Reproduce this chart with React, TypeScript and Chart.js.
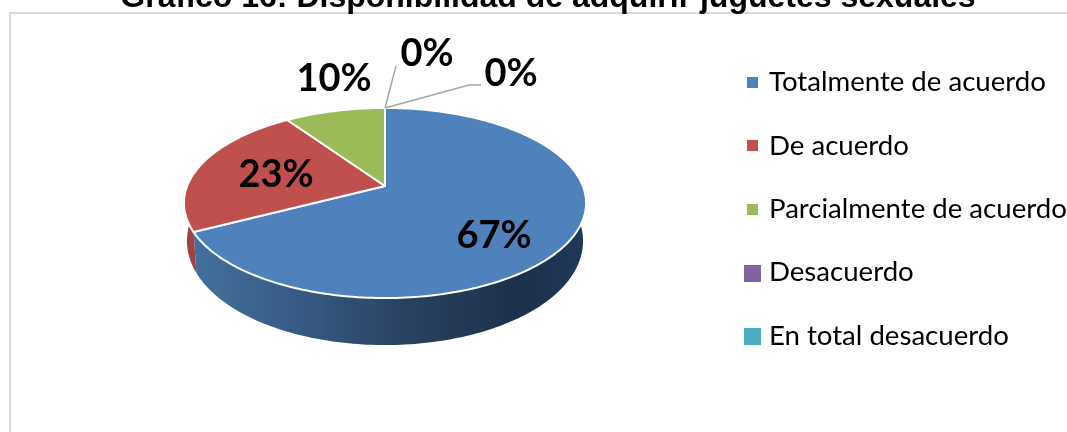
import React, { useEffect, useRef } from "react";
import { Chart, registerables } from "chart.js";

Chart.register(...registerables);

const titleText = "Gráfico 16: Disponibilidad de adquirir juguetes sexuales";
const categories = ["Totalmente de acuerdo", "De acuerdo", "Parcialmente de acuerdo", "Desacuerdo", "En total desacuerdo"];
const values = [67.4, 23, 9.6, 0, 0];
const colors = ["#4f81bd", "#c0504d", "#9bbb59", "#8064a2", "#4bacc6"];

const CX = 385, CY = 186, A = 197.8, B = 92, K = 0.179;

function project(theta: number, r: number, bottom = false) {
  const x = Math.sin(theta) * r;
  const z = -Math.cos(theta) * r;
  const d = 1 - K * z;
  let X = CX + (A * x) / d;
  let Y = CY + (B * z) / d;
  if (bottom) {
    X = CX + (X - CX) * 0.985;
    Y = Y + 36 + 11 * z;
  }
  return [X, Y];
}

function rimPoints(start: number, end: number, bottom = false) {
  const n = Math.max(1, Math.ceil(Math.abs(end - start) / 0.02));
  const pts: number[][] = [];
  for (let i = 0; i <= n; i++) pts.push(project(start + ((end - start) * i) / n, 1, bottom));
  return pts;
}

const piePlugin = {
  id: "perspectivePie",
  beforeDatasetsDraw(chart: any) {
    const ctx = chart.ctx as CanvasRenderingContext2D;
    const arcs = chart.getDatasetMeta(0).data;
    const angle = (a: number) => a + Math.PI / 2;

    // frame
    ctx.save();
    ctx.strokeStyle = "#d9d9d9";
    ctx.lineWidth = 2;
    ctx.strokeRect(10, 13, 1200, 600);
    ctx.restore();

    // side walls
    const blueWall = ctx.createLinearGradient(190, 0, 586, 0);
    blueWall.addColorStop(0, "#44719f");
    blueWall.addColorStop(0.28, "#375a83");
    blueWall.addColorStop(0.53, "#2a4363");
    blueWall.addColorStop(0.83, "#1c3049");
    blueWall.addColorStop(1, "#21385a");
    const wallFill = ["", "#a04441", "#7a9148", "#64508a", "#3a8ba0"];
    arcs.forEach((arc: any, i: number) => {
      if (values[i] === 0) return;
      const s = angle(arc.startAngle), e = angle(arc.endAngle);
      const top = rimPoints(s, e);
      const bot = rimPoints(s, e, true).reverse();
      ctx.beginPath();
      [...top, ...bot].forEach((p, j) => (j ? ctx.lineTo(p[0], p[1]) : ctx.moveTo(p[0], p[1])));
      ctx.closePath();
      ctx.fillStyle = i === 0 ? blueWall : wallFill[i];
      ctx.fill();
    });

    // top faces
    arcs.forEach((arc: any, i: number) => {
      if (values[i] === 0) return;
      const pts = rimPoints(angle(arc.startAngle), angle(arc.endAngle));
      ctx.beginPath();
      ctx.moveTo(CX, CY);
      pts.forEach((p) => ctx.lineTo(p[0], p[1]));
      ctx.closePath();
      ctx.fillStyle = colors[i];
      ctx.fill();
      ctx.strokeStyle = "#ffffff";
      ctx.lineWidth = 2;
      ctx.lineJoin = "round";
      ctx.stroke();
    });
    return false;
  },
  afterDraw(chart: any) {
    const ctx = chart.ctx as CanvasRenderingContext2D;
    const total = values.reduce((a, b) => a + b, 0);

    // title
    ctx.save();
    ctx.fillStyle = "#000";
    ctx.font = 'bold 32px "Liberation Sans"';
    ctx.textAlign = "center";
    ctx.textBaseline = "alphabetic";
    ctx.fillText(titleText, 548, 7);

    // leader lines
    ctx.strokeStyle = "#a6a6a6";
    ctx.lineWidth = 1.5;
    ctx.beginPath();
    ctx.moveTo(385, 108);
    ctx.lineTo(396, 66);
    ctx.moveTo(385, 108);
    ctx.lineTo(469, 85);
    ctx.lineTo(481, 85);
    ctx.stroke();

    // data labels
    const labelAt = [[494, 236], [276, 175], [334, 79], [427, 54], [511, 74]];
    ctx.font = 'bold 38px Lato';
    ctx.textBaseline = "middle";
    values.forEach((v, i) => {
      ctx.fillText(`${Math.round((v / total) * 100)}%`, labelAt[i][0], labelAt[i][1]);
    });

    // legend
    const rowY = [82, 146, 209, 272, 336];
    const boxes = [[747, 77, 11], [747, 140, 11], [747, 204, 11], [744, 265, 17], [744, 328, 17]];
    ctx.font = '27.6px Lato';
    ctx.textAlign = "left";
    categories.forEach((c, i) => {
      ctx.fillStyle = colors[i];
      ctx.fillRect(boxes[i][0], boxes[i][1], boxes[i][2], boxes[i][2]);
      ctx.fillStyle = "#000";
      ctx.fillText(c, 769, rowY[i]);
    });
    ctx.restore();
  },
};

export default function App() {
  const ref = useRef<HTMLCanvasElement>(null);
  useEffect(() => {
    const chart = new Chart(ref.current!, {
      type: "pie",
      data: {
        labels: categories,
        datasets: [{ data: values, backgroundColor: colors }],
      },
      options: {
        animation: false,
        responsive: false,
        layout: { padding: { left: 184, right: 481, top: 15, bottom: 15 } },
        plugins: { legend: { display: false }, tooltip: { enabled: false } },
      },
      plugins: [piePlugin],
    } as any);
    return () => chart.destroy();
  }, []);
  return (
    <div style={{ position: "fixed", left: 0, top: 0, width: 1067, height: 432, background: "#fff" }}>
      <canvas ref={ref} width={1067} height={432} style={{ display: "block" }} />
    </div>
  );
}
